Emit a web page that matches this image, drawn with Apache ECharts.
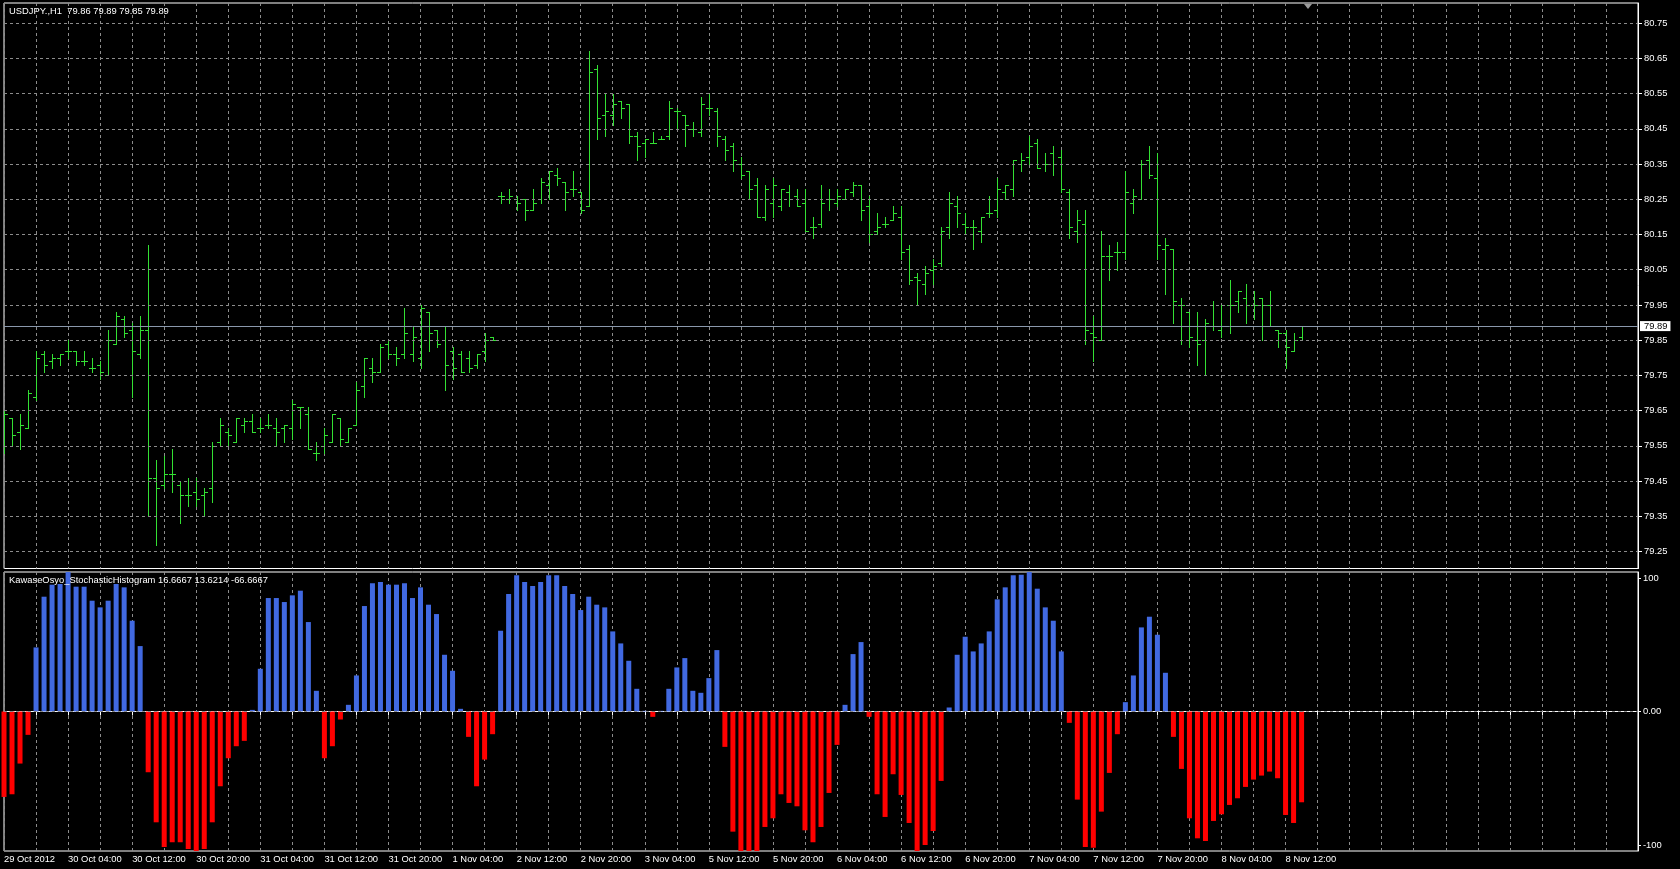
<!DOCTYPE html>
<html><head><meta charset="utf-8">
<script src="https://cdn.jsdelivr.net/npm/echarts@6/dist/echarts.min.js"></script>
<style>html,body{margin:0;padding:0;background:#000;}#c{width:1680px;height:869px;}</style>
</head><body><div id="c"></div>
<script>
const symbolTitle = 'USDJPY.,H1  79.86 79.89 79.85 79.89';
const indicatorTitle = 'KawaseOsyo_StochasticHistogram 16.6667 13.6214 -66.6667';
const dateLabels = ['29 Oct 2012','30 Oct 04:00','30 Oct 12:00','30 Oct 20:00','31 Oct 04:00','31 Oct 12:00','31 Oct 20:00','1 Nov 04:00','2 Nov 12:00','2 Nov 20:00','3 Nov 04:00','5 Nov 12:00','5 Nov 20:00','6 Nov 04:00','6 Nov 12:00','6 Nov 20:00','7 Nov 04:00','7 Nov 12:00','7 Nov 20:00','8 Nov 04:00','8 Nov 12:00'];
const opens = [79.60,79.63,79.59,79.60,79.69,79.81,79.79,79.80,79.82,79.82,79.79,79.77,79.78,79.75,79.84,79.91,79.88,79.81,79.88,79.46,
79.44,79.47,79.44,79.41,79.42,79.41,79.43,79.56,79.59,79.56,79.61,79.62,79.60,79.61,79.60,79.60,79.60,79.66,79.64,79.53,
79.55,79.56,79.63,79.56,79.61,79.72,79.77,79.76,79.84,79.81,79.81,79.81,79.80,79.93,79.88,79.85,79.82,79.81,79.80,79.78,
79.82,79.86,80.26,80.25,80.25,80.25,80.22,80.25,80.29,80.32,80.30,80.28,80.27,80.23,80.62,80.49,80.49,80.53,80.52,80.43,
80.41,80.41,80.42,80.43,80.50,80.49,80.45,80.44,80.51,80.50,80.42,80.40,80.35,80.33,80.29,80.20,80.24,80.23,80.27,80.26,
80.24,80.17,80.18,80.25,80.24,80.25,80.27,80.29,80.23,80.16,80.18,80.19,80.20,80.11,80.03,80.01,80.05,80.07,80.17,80.23,
80.18,80.17,80.16,80.21,80.22,80.27,80.28,80.35,80.37,80.41,80.35,80.38,80.37,80.27,80.16,80.18,79.87,79.85,80.09,80.10,
80.10,80.24,80.25,80.36,80.31,80.11,80.11,79.95,79.93,79.85,79.85,79.89,79.88,79.95,79.96,79.97,79.95,79.97,79.95,79.88,
79.87,79.82,79.86];
const highs = [79.65,79.63,79.64,79.71,79.82,79.82,79.81,79.81,79.85,79.82,79.82,79.80,79.79,79.88,79.93,79.92,79.90,79.92,80.12,79.51,
79.52,79.54,79.45,79.46,79.46,79.43,79.56,79.63,79.60,79.63,79.63,79.64,79.63,79.64,79.63,79.61,79.68,79.66,79.66,79.56,
79.60,79.64,79.63,79.60,79.73,79.80,79.80,79.84,79.85,79.83,79.94,79.89,79.95,79.93,79.88,79.89,79.83,79.82,79.82,79.81,
79.87,79.86,80.27,80.28,80.26,80.25,80.28,80.31,80.33,80.34,80.30,80.33,80.27,80.67,80.63,80.55,80.55,80.53,80.52,80.44,
80.42,80.44,80.43,80.53,80.51,80.49,80.47,80.54,80.55,80.51,80.43,80.41,80.37,80.33,80.31,80.29,80.31,80.28,80.29,80.28,
80.28,80.20,80.29,80.28,80.28,80.28,80.30,80.29,80.26,80.21,80.20,80.23,80.23,80.12,80.04,80.06,80.08,80.17,80.27,80.26,
80.21,80.19,80.20,80.26,80.31,80.29,80.36,80.38,80.43,80.42,80.38,80.40,80.39,80.28,80.22,80.22,79.92,80.16,80.12,80.13,
80.33,80.28,80.36,80.40,80.38,80.14,80.11,79.97,79.93,79.93,79.91,79.96,79.95,80.02,79.99,80.01,79.99,79.97,79.99,79.88,
79.88,79.87,79.89];
const lows = [79.53,79.55,79.54,79.60,79.68,79.76,79.77,79.78,79.80,79.78,79.78,79.76,79.74,79.75,79.84,79.86,79.69,79.80,79.35,79.27,
79.43,79.42,79.33,79.38,79.38,79.35,79.39,79.55,79.55,79.56,79.59,79.59,79.59,79.60,79.55,79.56,79.57,79.60,79.54,79.51,
79.53,79.56,79.55,79.56,79.61,79.69,79.73,79.76,79.80,79.78,79.80,79.79,79.77,79.82,79.83,79.71,79.74,79.76,79.76,79.77,
79.79,79.85,80.24,80.24,80.22,80.19,80.22,80.24,80.25,80.29,80.22,80.26,80.21,80.23,80.42,80.43,80.46,80.48,80.41,80.36,
80.37,80.41,80.42,80.42,80.45,80.40,80.43,80.43,80.49,80.40,80.36,80.33,80.31,80.25,80.20,80.19,80.20,80.22,80.23,80.23,
80.16,80.14,80.17,80.22,80.23,80.25,80.26,80.19,80.13,80.15,80.17,80.19,80.08,80.01,79.95,79.98,80.01,80.06,80.14,80.17,
80.15,80.11,80.13,80.20,80.20,80.25,80.26,80.33,80.35,80.34,80.33,80.32,80.27,80.14,80.13,79.84,79.79,79.85,80.02,80.05,
80.08,80.21,80.25,80.31,80.08,79.98,79.90,79.84,79.83,79.78,79.75,79.88,79.86,79.87,79.93,79.90,79.91,79.85,79.89,79.83,
79.77,79.82,79.85];
const closes = [79.64,79.58,79.61,79.70,79.80,79.78,79.80,79.81,79.82,79.79,79.79,79.77,79.76,79.85,79.92,79.87,79.82,79.88,79.46,79.43,
79.47,79.47,79.41,79.41,79.40,79.42,79.55,79.61,79.58,79.63,79.62,79.59,79.60,79.61,79.59,79.61,79.67,79.66,79.54,79.53,
79.58,79.64,79.57,79.60,79.71,79.80,79.76,79.83,79.81,79.80,79.87,79.86,79.94,79.87,79.84,79.78,79.77,79.76,79.77,79.81,
79.85,79.85,80.26,80.26,80.24,80.22,80.24,80.30,80.33,80.31,80.27,80.28,80.22,80.61,80.48,80.50,80.52,80.51,80.43,80.40,
80.42,80.41,80.42,80.51,80.50,80.46,80.45,80.52,80.51,80.43,80.39,80.36,80.32,80.28,80.20,80.28,80.29,80.28,80.25,80.23,
80.16,80.17,80.24,80.25,80.26,80.28,80.29,80.22,80.15,80.17,80.18,80.21,80.10,80.02,80.02,80.04,80.06,80.16,80.24,80.21,
80.17,80.17,80.20,80.21,80.28,80.29,80.36,80.36,80.40,80.34,80.35,80.35,80.28,80.17,80.19,79.88,79.86,80.09,80.09,80.10,
80.27,80.26,80.35,80.32,80.12,80.12,79.96,79.95,79.86,79.84,79.90,79.89,79.95,79.95,79.99,79.95,79.95,79.95,79.89,79.87,
79.83,79.85,79.89];
const histValues = [-64,-62,-39,-17.5,48,86,95,95.5,105,93.5,93.5,83,78,83,95.5,93,68,49,-45.5,-83,
-101.5,-98,-98,-103,-105,-103,-83,-56,-35,-26,-22,1.2,32,85,85,82,87,90.5,67,15.5,
-35,-26,-6,5,27,79,96,97,95,95,96,85,93,80,73,42.5,30.5,2,-19,-56,
-36,-17,60.5,88,102,97,94,97,102,102,94,88,76,86,80,78,60,51,38,17,
0.5,-4,0.5,17,33,40,15.5,14,25,46,-26.5,-90,-105,-105,-105,-86.5,-80,-62,-68.5,-71,
-89,-98,-86.5,-61,-25,5,43,52,-4,-62,-79,-47,-62.5,-83.5,-105,-100,-89.5,-52,3,42.5,
56,45,51,60,84,93,102,102.5,105,92,78,68,45,-8.5,-66,-101.5,-102,-75,-46,-17,
7,27,63,71,57.5,29,-19,-43,-80,-95,-97,-82,-77,-70,-65,-56.5,-51,-48,-45,-50,
-77.5,-83.5,-68];
const priceTicks = [79.25,79.35,79.45,79.55,79.65,79.75,79.85,79.95,80.05,80.15,80.25,80.35,80.45,80.55,80.65,80.75];
const oscTicks = [-100, 0, 100];
const currentPrice = 79.89;
const totalSlots = 205;
const labelEvery = 8;

const FONT = '"Liberation Sans", Arial, sans-serif';
const GRIDC = '#8c8c8c';
const categories = [];
for (let i = 0; i < totalSlots; i++) {
  const j = i / labelEvery;
  categories.push(i % labelEvery === 0 && dateLabels[j] ? dateLabels[j] : '');
}
const ohlcData = opens.map((o, i) => [i, o, highs[i], lows[i], closes[i]]);
const blueData = histValues.map(v => v >= 0 ? v : '-');
const redData = histValues.map(v => v < 0 ? v : '-');

function renderOHLC(params, api) {
  const idx = api.value(0);
  const po = api.coord([idx, api.value(1)]);
  const ph = api.coord([idx, api.value(2)]);
  const pl = api.coord([idx, api.value(3)]);
  const pc = api.coord([idx, api.value(4)]);
  const x = Math.round(po[0]) + 0.5;
  const yo = Math.round(po[1]) + 0.5, yc = Math.round(pc[1]) + 0.5;
  const style = { stroke: '#33e033', lineWidth: 1 };
  return { type: 'group', children: [
    { type: 'line', shape: { x1: x, y1: Math.round(ph[1]), x2: x, y2: Math.round(pl[1]) + 1 }, style },
    { type: 'line', shape: { x1: x - 3.5, y1: yo, x2: x, y2: yo }, style },
    { type: 'line', shape: { x1: x, y1: yc, x2: x + 3.5, y2: yc }, style }
  ]};
}

const chart = echarts.init(document.getElementById('c'), null, { renderer: 'canvas' });
const gridLineMarks = priceTicks.map(v => ({ yAxis: v, lineStyle: { color: GRIDC, type: [3, 3], width: 1 }, label: { show: false } }));
gridLineMarks.push({ yAxis: currentPrice, lineStyle: { color: '#8a98ab', type: 'solid', width: 1 },
  label: { show: true, position: 'end', distance: 2, formatter: currentPrice.toFixed(2), color: '#000', backgroundColor: '#fff', padding: [1, 3, 0, 4], fontSize: 9.4, fontFamily: FONT } });

const xCommon = (gi, showLabels) => ({
  type: 'category', gridIndex: gi, data: categories, boundaryGap: false,
  axisLine: { show: showLabels, lineStyle: { color: '#fff', width: 1 } },
  axisTick: { show: showLabels, interval: 3, length: 4, lineStyle: { color: '#fff' } },
  axisLabel: { show: showLabels, interval: labelEvery - 1, align: 'left', color: '#fff', fontSize: 9.4, fontFamily: FONT, margin: 4 },
  splitLine: { show: true, interval: 3, lineStyle: { color: GRIDC, type: [3, 3], width: 1 } }
});

chart.setOption({
  backgroundColor: '#000',
  animation: false,
  grid: [
    { left: 4, right: 42, top: 3, height: 565.5, show: true, borderColor: '#fff', borderWidth: 1, backgroundColor: 'transparent' },
    { left: 4, right: 42, top: 572, bottom: 18, show: true, borderColor: '#fff', borderWidth: 1, backgroundColor: 'transparent' }
  ],
  xAxis: [xCommon(0, false), xCommon(1, true)],
  yAxis: [
    { type: 'value', gridIndex: 0, position: 'right', min: 79.202, max: 80.807, scale: true,
      axisLine: { show: true, lineStyle: { color: '#fff' } },
      axisTick: { show: true, length: 4, customValues: priceTicks, lineStyle: { color: '#fff' } },
      axisLabel: { customValues: priceTicks, formatter: v => v.toFixed(2), color: '#fff', fontSize: 9.4, fontFamily: FONT, margin: 6 },
      splitLine: { show: false } },
    { type: 'value', gridIndex: 1, position: 'right', min: -104.5, max: 104.5,
      axisLine: { show: true, lineStyle: { color: '#fff' } },
      axisTick: { show: true, length: 3, customValues: oscTicks, lineStyle: { color: '#fff' } },
      axisLabel: { customValues: oscTicks, formatter: v => (v === 0 ? '0.00' : String(v)), color: '#fff', fontSize: 9.4, fontFamily: FONT, margin: 5 },
      splitLine: { show: false } }
  ],
  series: [
    { type: 'line', xAxisIndex: 0, yAxisIndex: 0, data: [], silent: true, z: 1,
      markLine: { silent: true, symbol: 'none', animation: false, data: gridLineMarks } },
    { type: 'custom', xAxisIndex: 0, yAxisIndex: 0, data: ohlcData, renderItem: renderOHLC,
      encode: { x: 0, y: [1, 2, 3, 4] }, z: 3, clip: true },
    { type: 'bar', xAxisIndex: 1, yAxisIndex: 1, data: blueData, barWidth: 5, barGap: '-100%',
      itemStyle: { color: '#4169e1' }, z: 3,
      markLine: { silent: true, symbol: 'none', animation: false, label: { show: false },
        data: [{ yAxis: 0 }], lineStyle: { color: GRIDC, type: [3, 3], width: 1 } } },
    { type: 'bar', xAxisIndex: 1, yAxisIndex: 1, data: redData, barWidth: 5, barGap: '-100%',
      itemStyle: { color: '#ff0000' }, z: 3 }
  ],
  graphic: [
    { type: 'text', left: 9, top: 7, z: 100, style: { text: symbolTitle, fill: '#fff', font: '9.4px ' + FONT } },
    { type: 'text', left: 9, top: 576, z: 100, style: { text: indicatorTitle, fill: '#fff', font: '9.4px ' + FONT } },
    { type: 'polygon', z: 100, shape: { points: [[1304, 4], [1312, 4], [1308, 9]] }, style: { fill: '#9a9a9a' } }
  ]
});
</script>
</body></html>
